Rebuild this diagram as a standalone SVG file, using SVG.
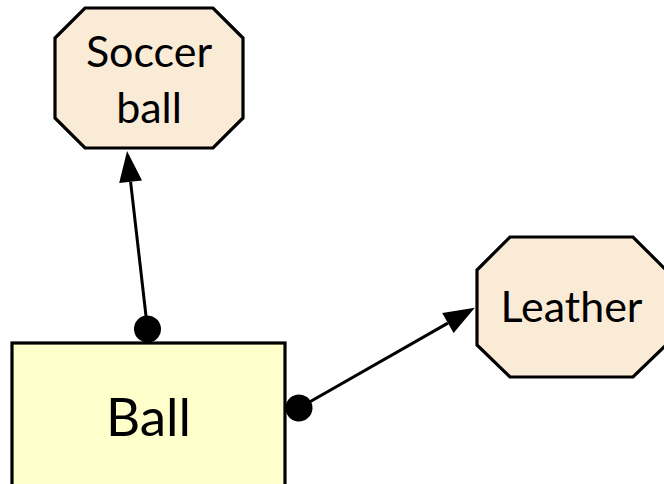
<svg xmlns="http://www.w3.org/2000/svg" width="664" height="484" viewBox="0 0 664 484">
<style>
.oct{fill:#FAEBD7;stroke:#000;stroke-width:3.2;stroke-linejoin:miter}
.box{fill:#FFFFCC;stroke:#000;stroke-width:3.2}
.lbl{font-family:Lato,"Liberation Sans",sans-serif;fill:#000;text-anchor:middle}
.edge{fill:none;stroke:#000;stroke-width:3}
</style>
<defs>
<marker id="arrow" markerUnits="userSpaceOnUse" markerWidth="34" markerHeight="26" refX="0" refY="11.5" orient="auto" overflow="visible">
<path d="M0,0 L31,11.5 L0,23 z" fill="#000"/>
</marker>
<marker id="dot" markerUnits="userSpaceOnUse" markerWidth="30" markerHeight="30" refX="14" refY="14" orient="auto" overflow="visible">
<circle cx="14" cy="14" r="13.5" fill="#000"/>
</marker>
</defs>
<g id="edges">
<path class="edge" d="M147.5,329 L130.6,181.8" marker-start="url(#dot)" marker-end="url(#arrow)"/>
<path class="edge" d="M299,408 L447.9,323.1" marker-start="url(#dot)" marker-end="url(#arrow)"/>
</g>
<g id="soccer_ball">
<polygon class="oct" points="85,8 213,8 243,38 243,118 213,148 85,148 55,118 55,38"/>
<text class="lbl" x="149" y="67" font-size="43">Soccer</text>
<text class="lbl" x="149" y="123" font-size="43">ball</text>
</g>
<g id="leather">
<polygon class="oct" points="510,237 633,237 666,270 666,345 633,377 510,377 477,345 477,270"/>
<text class="lbl" x="571.5" y="322" font-size="43">Leather</text>
</g>
<g id="ball">
<rect class="box" x="12" y="343" width="273" height="160"/>
<text class="lbl" x="148.5" y="436" font-size="53">Ball</text>
</g>
</svg>
